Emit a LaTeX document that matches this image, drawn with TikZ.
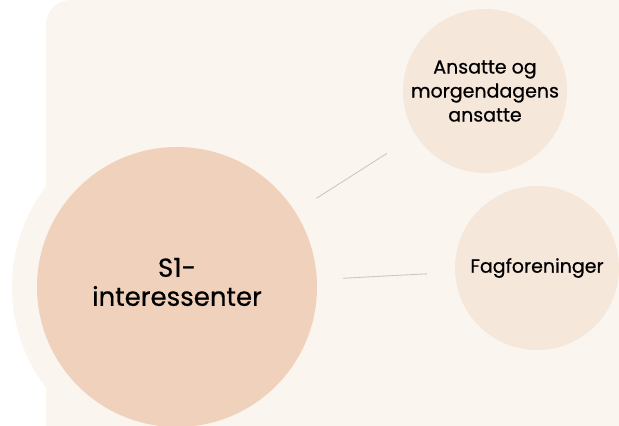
\documentclass[tikz,border=0pt]{standalone}
\usepackage{fontspec}
\setmainfont{Poppins}[FakeBold=0.6]
\usetikzlibrary{positioning}
\definecolor{skbg}{HTML}{FAF5EF}
\definecolor{skmain}{HTML}{F0D2BC}
\definecolor{sksub}{HTML}{F6E7DB}
\definecolor{skline}{HTML}{C8C8C8}
\tikzset{
  hub/.style   ={circle, fill=skmain, draw=none, align=center, text=black,
                 minimum size=280pt, inner sep=0pt,
                 font=\fontsize{26}{29}\selectfont},
  halo/.style  ={circle, fill=skbg, draw=none, minimum size=330pt, inner sep=0pt},
  grp/.style   ={circle, fill=sksub, draw=none, align=center, text=black,
                 minimum size=164pt, inner sep=0pt,
                 font=\fontsize{19}{24}\selectfont},
  lnk/.style   ={draw=skline, line width=0.9pt}
}
\begin{document}
\begin{tikzpicture}[x=1pt,y=-1pt]
  \useasboundingbox (0,0) rectangle (619,426);
  \fill[white] (0,0) rectangle (619,426);
  \fill[skbg] (46,426) -- (46,25) arc[start angle=180,end angle=270,radius=25]
        -- (619,0) -- (619,426) -- cycle;

  \node[halo] (bg) at (177,287) {};
  \node[hub]  (s1) at (177,287) {};
  \node[align=center, font=\fontsize{26}{29}\selectfont] (t1) at (177,282) {S1-\\interessenter};
  \node[grp]  (g1) at (485,91)  {Ansatte og\\morgendagens\\ansatte};
  \node[grp]  (g2) at (537,268) {Fagforeninger};

  \draw[lnk,shorten <=25pt,shorten >=34pt] (s1)--(g1);
  \draw[lnk,shorten <=26pt,shorten >=28pt] (s1)--(g2);
\end{tikzpicture}
\end{document}
